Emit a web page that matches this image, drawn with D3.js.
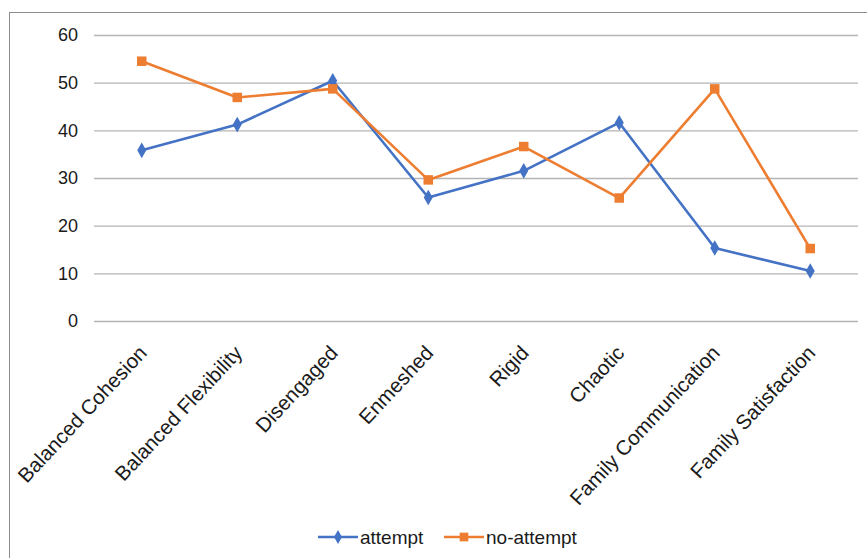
<!DOCTYPE html>
<html>
<head>
<meta charset="utf-8">
<script src="https://cdnjs.cloudflare.com/ajax/libs/d3/7.8.5/d3.min.js"></script>
<style>
  body { margin: 0; background: #fff; }
  svg { display: block; font-family: "Liberation Sans", Arial, sans-serif; }
</style>
</head>
<body>
<div class="chart"></div>
<script>
var w = 867,
  h = 558;

var categories = ['Balanced Cohesion', 'Balanced Flexibility', 'Disengaged', 'Enmeshed', 'Rigid', 'Chaotic', 'Family Communication', 'Family Satisfaction'];
var attempt = [35.8, 41.2, 50.4, 25.9, 31.5, 41.6, 15.3, 10.5];
var noAttempt = [54.5, 46.9, 48.7, 29.6, 36.6, 25.8, 48.7, 15.2];
var yTicks = [0, 10, 20, 30, 40, 50, 60];
var seriesNames = ['attempt', 'no-attempt'];
var colors = ['#4472c4', '#ed7d31'];

var margin = { top: 35, left: 94, right: 9, bottom: 237 };

var svg = d3.select('.chart')
  .append('svg')
  .attr('width', w)
  .attr('height', h);

// chart area border (cropped on right / bottom)
svg.append('rect')
  .attr('x', 9.5)
  .attr('y', 12.5)
  .attr('width', 900)
  .attr('height', 600)
  .attr('fill', 'none')
  .attr('stroke', '#8c8c8c')
  .attr('stroke-width', 1);

var x = d3.scaleBand()
  .domain(categories)
  .range([margin.left, w - margin.right]);

var y = d3.scaleLinear()
  .domain([0, 60])
  .range([h - margin.bottom, margin.top]);

// gridlines + y labels
var yAxis = svg.append('g')
  .attr('transform', 'translate(' + margin.left + ',0)')
  .call(d3.axisLeft(y).tickValues(yTicks).tickSize(-(w - margin.left - margin.right)).tickPadding(16));
yAxis.select('.domain').remove();
yAxis.selectAll('.tick line').attr('stroke', '#b4b4b4').attr('stroke-width', 1.3);
yAxis.selectAll('.tick text')
  .attr('fill', '#1a1a1a')
  .style('font-size', '18px');

// x labels
var xAxis = svg.append('g')
  .attr('transform', 'translate(0,' + (h - margin.bottom) + ')')
  .call(d3.axisBottom(x).tickSize(0).tickFormat(function (d) { return d; }));
xAxis.select('.domain').remove();
xAxis.selectAll('.tick text')
  .attr('fill', '#1a1a1a')
  .style('font-size', '20.5px')
  .attr('text-anchor', 'end')
  .attr('dy', '0.35em')
  .attr('y', 0)
  .attr('transform', 'translate(1,28) rotate(-47)');

var line = d3.line()
  .x(function (d, i) { return x(categories[i]) + x.bandwidth() / 2; })
  .y(function (d) { return y(d); });

var drawSeries = function (data, color, symbol, size) {
  svg.append('path')
    .datum(data)
    .attr('d', line)
    .attr('fill', 'none')
    .attr('stroke', color)
    .attr('stroke-width', 2.6)
    .attr('stroke-linejoin', 'round');

  svg.selectAll(null)
    .data(data)
    .enter()
    .append('path')
    .attr('d', d3.symbol().type(symbol).size(size))
    .attr('transform', function (d, i) {
      return 'translate(' + (x(categories[i]) + x.bandwidth() / 2) + ',' + y(d) + ')';
    })
    .attr('fill', color);
}

drawSeries(attempt, colors[0], d3.symbolDiamond, 70);
drawSeries(noAttempt, colors[1], d3.symbolSquare, 90);

// legend
var legendItems = [
  { name: seriesNames[0], color: colors[0], symbol: d3.symbolDiamond, size: 55, x: 318 },
  { name: seriesNames[1], color: colors[1], symbol: d3.symbolSquare, size: 75, x: 444 }
];
var legend = svg.selectAll('.legend')
  .data(legendItems)
  .enter()
  .append('g')
  .attr('transform', function (d) { return 'translate(' + d.x + ',537)'; });
legend.append('line')
  .attr('x1', 0).attr('x2', 40)
  .attr('stroke', function (d) { return d.color; })
  .attr('stroke-width', 2.6);
legend.append('path')
  .attr('d', function (d) { return d3.symbol().type(d.symbol).size(d.size)(); })
  .attr('transform', 'translate(20,0)')
  .attr('fill', function (d) { return d.color; });
legend.append('text')
  .attr('x', 42)
  .attr('dy', '0.35em')
  .attr('fill', '#1a1a1a')
  .style('font-size', '19px')
  .text(function (d) { return d.name; });
</script>
</body>
</html>
